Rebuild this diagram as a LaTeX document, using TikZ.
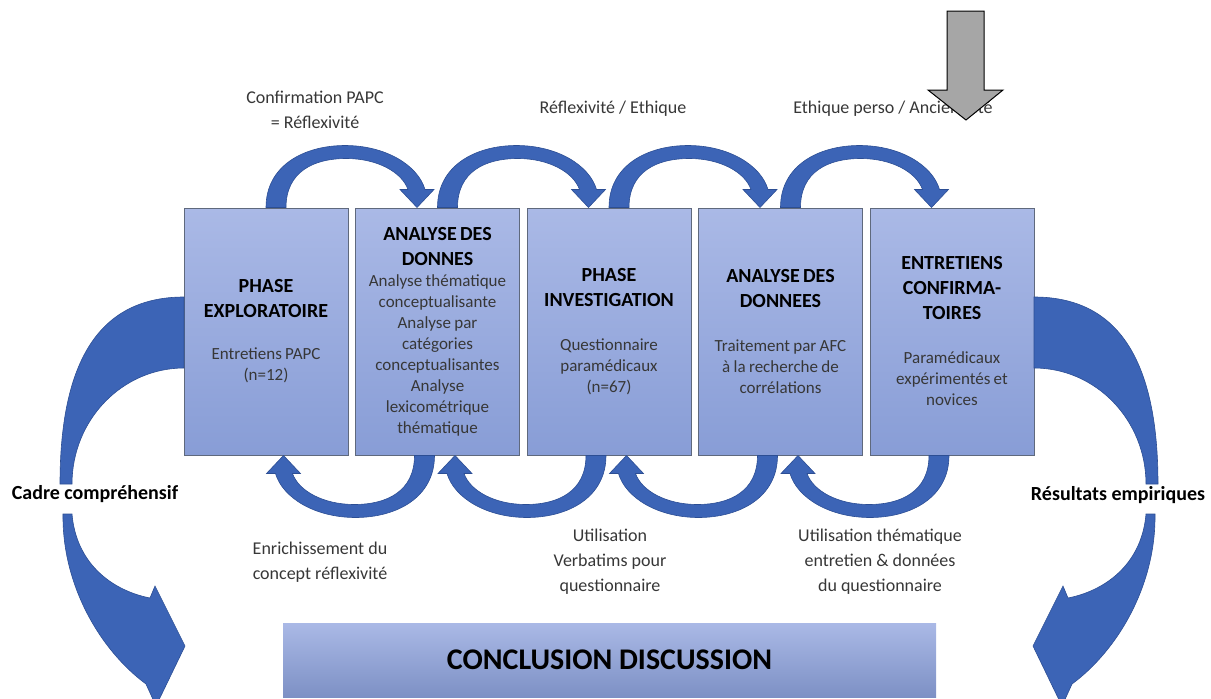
\documentclass[tikz,border=0pt]{standalone}
\usepackage{fontspec}
\setmainfont{Carlito}
\usetikzlibrary{calc}
\definecolor{arrowblue}{RGB}{60,100,182}
\definecolor{arrowedge}{RGB}{44,78,148}
\definecolor{boxtop}{RGB}{170,185,230}
\definecolor{boxbot}{RGB}{136,157,214}
\definecolor{boxedge}{RGB}{95,105,125}
\definecolor{txt}{RGB}{55,55,55}
\definecolor{grayarrow}{RGB}{166,166,166}
\newcommand{\hdf}{\fontsize{20}{25}\selectfont\bfseries\color{black}}
\newcommand{\bdf}{\fontsize{17}{21}\selectfont\mdseries\color{txt}}
\begin{document}
\begin{tikzpicture}[x=1pt,y=-1pt,
  phase/.style={draw=boxedge, line width=1pt, top color=boxtop, bottom color=boxbot,
    minimum width=164pt, minimum height=247pt, text width=160pt, align=center, inner sep=0pt},
  concl/.style={top color=boxtop, bottom color=boxbot!92!black, draw=none,
    minimum width=653pt, minimum height=74pt, inner sep=0pt,
    font=\fontsize{30}{36}\selectfont\bfseries, text=black},
  lbl/.style={font=\fontsize{18}{25}\selectfont, text=txt, align=center},
  side/.style={font=\fontsize{20}{24}\selectfont\bfseries, text=black},
  bluearrow/.style={fill=arrowblue, draw=arrowedge, line width=0.6pt},
  toparr/.pic={\path[bluearrow] (0,0) .. controls (0,-42) and (38,-62) .. (79,-62)
      .. controls (120,-62) and (152,-42) .. (159,-18) -- (168,-18) -- (151,0) -- (134,-18) -- (142,-18)
      .. controls (136,-35) and (112,-49) .. (80,-49) .. controls (48,-49) and (20,-36) .. (20,0) -- cycle;},
  sidearr/.pic={
    \path[bluearrow] (184,297) .. controls (100,297) and (60,360) .. (60,484) -- (72,484)
      .. controls (72,420) and (122.1,368) .. (184,368) -- cycle;
    \path[bluearrow] (63,514) .. controls (62,585) and (100,650) .. (146,684) -- (156,706) -- (185,646)
      -- (155,586) -- (150,598) .. controls (110,590) and (76,562) .. (72,514) -- cycle;}
]
\useasboundingbox (0,0) rectangle (1211,699);
\clip (0,0) rectangle (1211,699);

% phase boxes
\node[phase] (b1) at (266,331.5) {\hdf PHASE\\EXPLORATOIRE\par\vspace{21pt}\bdf Entretiens PAPC\\(n=12)\par};
\node[phase] (b2) at (437.5,331.5) {\hdf ANALYSE DES\\DONNES\par\bdf Analyse thématique\\conceptualisante\\Analyse par\\catégories\\conceptualisantes\\Analyse\\lexicométrique\\thématique\par};
\node[phase] (b3) at (609,331.5) {\hdf PHASE\\INVESTIGATION\par\vspace{23pt}\bdf Questionnaire\\paramédicaux\\(n=67)\par};
\node[phase] (b4) at (780.5,331.5) {\hdf ANALYSE DES\\DONNEES\par\vspace{23pt}\bdf Traitement par AFC\\à la recherche de\\corrélations\par};
\node[phase] (b5) at (952,331.5) {\hdf ENTRETIENS\\CONFIRMA-\\TOIRES\par\vspace{23pt}\bdf Paramédicaux\\expérimentés et\\novices\par};

% conclusion
\node[concl] (c) at (609.5,660) {CONCLUSION DISCUSSION};

% top arrows
\pic at (b1.north) {toparr};
\pic at (b2.north) {toparr};
\pic at (b3.north) {toparr};
\pic at (b4.north) {toparr};
% bottom arrows
\pic[rotate=180] at ($(b2.south)+(-3,0)$) {toparr};
\pic[rotate=180] at ($(b3.south)+(-3,0)$) {toparr};
\pic[rotate=180] at ($(b4.south)+(-3,0)$) {toparr};
\pic[rotate=180] at ($(b5.south)+(-3,0)$) {toparr};

% side arrows
\pic at (0,0) {sidearr};
\pic[xscale=-1] at (1218,0) {sidearr};
\node[side] (cadre) at (95,494) {Cadre compréhensif};
\node[side] (res) at (1118,495) {Résultats empiriques};

% labels
\node[lbl] (l1) at (315,109.5) {Confirmation PAPC\\= Réflexivité};
\node[lbl] (l2) at (613,109) {Réflexivité / Ethique};
\node[lbl] (l3) at (893,109) {Ethique perso / Ancienneté};
\node[lbl] (l4) at (320,562.5) {Enrichissement du\\concept réflexivité};
\node[lbl] (l5) at (610,562) {Utilisation\\Verbatims pour\\questionnaire};
\node[lbl] (l6) at (880,562) {Utilisation thématique\\entretien \& données\\du questionnaire};

% grey arrow
\path[fill=grayarrow, draw=black, line width=1pt] (947,11) -- (984,11) -- (984,90) -- (1003,90)
  -- (966,120) -- (928,90) -- (947,90) -- cycle;
\end{tikzpicture}
\end{document}
